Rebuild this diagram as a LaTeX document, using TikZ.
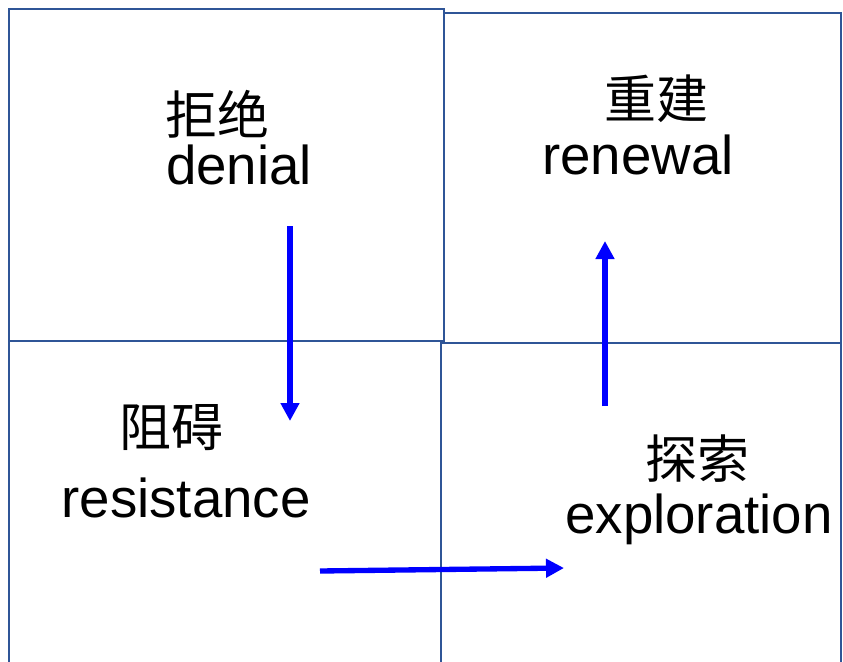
\documentclass[tikz,border=0pt]{standalone}
\usepackage{fontspec}
\setmainfont{Liberation Sans}
\newfontfamily\cjk{Noto Sans CJK SC}
\usetikzlibrary{arrows.meta}
\definecolor{boxblue}{RGB}{47,85,151}
\definecolor{arrblue}{RGB}{0,0,255}
\tikzset{
  quad/.style={draw=boxblue, line width=1.6pt},
  cjklabel/.style={inner sep=0pt, anchor=center, font=\cjk\fontsize{39pt}{39pt}\selectfont},
  enlabel/.style={inner sep=0pt, anchor=base, font=\fontsize{41pt}{41pt}\selectfont},
  flow/.style={draw=arrblue, line width=4pt, -{Triangle[width=13.5pt,length=13.5pt]}}
}
\begin{document}
\begin{tikzpicture}[x=0.75pt,y=-0.75pt]
\useasboundingbox (0,0) rectangle (843,661);
\clip (0,0) rectangle (843,661);
% boxes
\draw[quad] (9,9) rectangle (444,341);
\draw[quad] (444,13) rectangle (841,343);
\draw[quad] (9,341) rectangle (441,680);
\draw[quad] (441,343) rectangle (841,680);
% labels
\node[cjklabel] (d1) at (217,114) {拒绝};
\node[enlabel] (d2) at (239,184) {denial};
\node[cjklabel] (r1) at (656,99) {重建};
\node[enlabel] (r2) at (638,174) {renewal};
\node[cjklabel] (s1) at (171,428) {阻碍};
\node[enlabel] (s2) at (186,517) {resistance};
\node[cjklabel] (e1) at (697,459) {探索};
\node[enlabel] (e2) at (699,533) {exploration};
% arrows
\coordinate (a1) at (290,226);
\coordinate (a2) at (290,421);
\coordinate (b1) at (320,571);
\coordinate (b2) at (564,568);
\coordinate (c1) at (605,406);
\coordinate (c2) at (605,241);
\draw[flow] (a1) -- (a2);
\draw[flow] (b1) -- (b2);
\draw[flow] (c1) -- (c2);
\end{tikzpicture}
\end{document}
